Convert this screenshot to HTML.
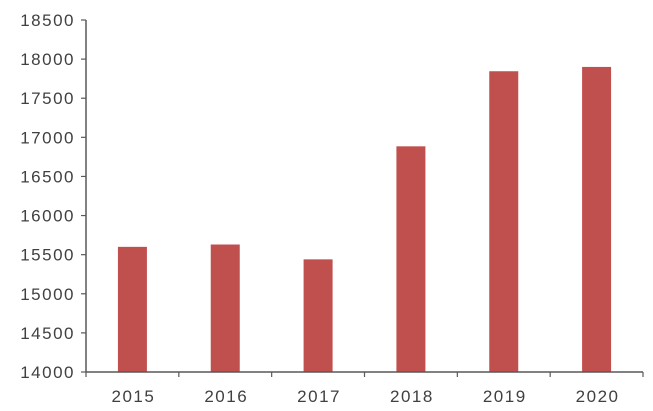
<!DOCTYPE html>
<html><head><meta charset="utf-8"><style>
html,body{margin:0;padding:0;background:#fff;}
svg{display:block;font-family:"Liberation Sans",Arial,sans-serif;}
</style></head><body>
<svg id="chart" width="653" height="411"></svg>
<script>
const categories = ["2015","2016","2017","2018","2019","2020"];
const values = [15600, 15630, 15440, 16885, 17845, 17900];
const yTicks = [14000,14500,15000,15500,16000,16500,17000,17500,18000,18500];
const NS = "http://www.w3.org/2000/svg";
const svg = document.getElementById("chart");
const x0 = 86, x1 = 643, yTop = 20, yBot = 372, yMin = 14000, yMax = 18500;
const band = (x1 - x0) / categories.length;
function y(v){ return yBot - (v - yMin) / (yMax - yMin) * (yBot - yTop); }
function xc(i){ return x0 + band * (i + 0.5); }
function mk(tag, attrs){ const e = document.createElementNS(NS, tag); for (const k in attrs) e.setAttribute(k, attrs[k]); svg.appendChild(e); return e; }
values.forEach((v, i) => {
  const r = mk("rect", {x: xc(i) - 14.5, y: y(v), width: 29, height: yBot - y(v), fill: "#c0504d"});
  
  
});
const ya = mk("line", {x1: x0, y1: yTop, x2: x0, y2: yBot, stroke: "#595959", "stroke-width": 1.5});


const xa = mk("line", {x1: x0, y1: yBot, x2: x1, y2: yBot, stroke: "#595959", "stroke-width": 1.5});


yTicks.forEach(t => {
  mk("line", {x1: x0 - 5, y1: y(t), x2: x0, y2: y(t), stroke: "#595959", "stroke-width": 1.2});
  const tx = mk("text", {x: x0 - 11, y: y(t) + 6, "text-anchor": "end", "font-size": 17, "letter-spacing": 1.5, fill: "#404040"});
  tx.textContent = t;
  
  
});
for (let i = 0; i <= categories.length; i++) {
  mk("line", {x1: x0 + band * i, y1: yBot, x2: x0 + band * i, y2: yBot + 5, stroke: "#595959", "stroke-width": 1.2});
}
categories.forEach((c, i) => {
  const tx = mk("text", {x: xc(i) + 1, y: 402, "text-anchor": "middle", "font-size": 17, "letter-spacing": 1.5, fill: "#404040"});
  tx.textContent = c;
  
  
});
</script>
</body></html>
